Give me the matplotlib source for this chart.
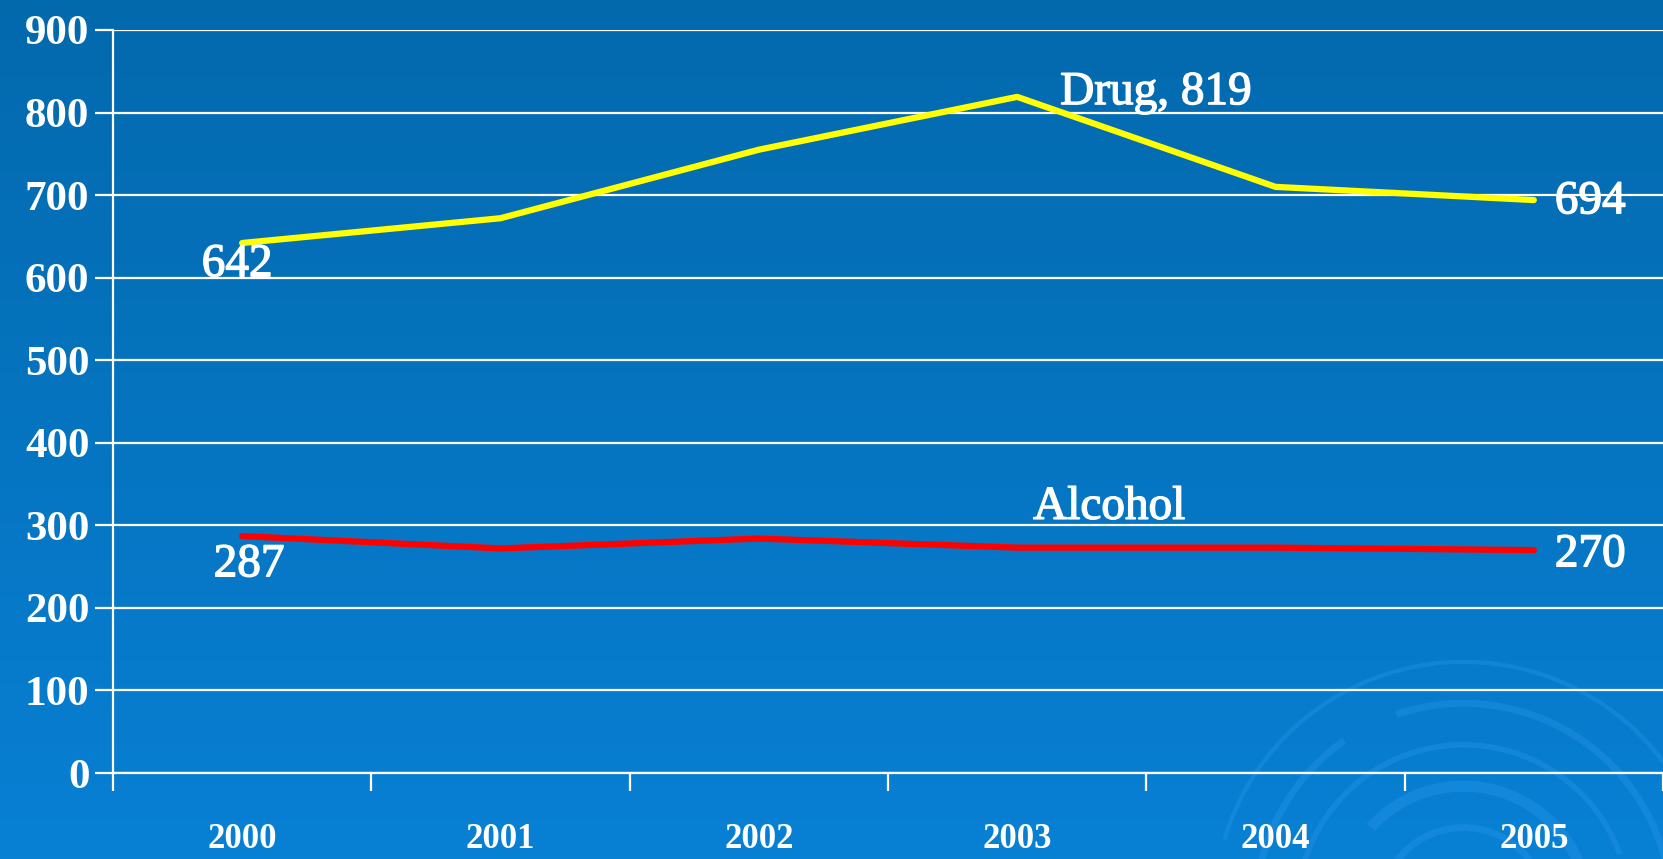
import numpy as np
import matplotlib.pyplot as plt
import matplotlib.patheffects as pe
from matplotlib.patches import Arc

years = ['2000', '2001', '2002', '2003', '2004', '2005']
drug = [642, 672, 755, 819, 710, 694]
alcohol = [287, 272, 284, 273, 273, 270]

plt.rcParams['font.family'] = ['Liberation Serif', 'DejaVu Serif']

fig = plt.figure(figsize=(16.63, 8.59), dpi=100)

# slide background: vertical blue gradient
bg = fig.add_axes([0, 0, 1, 1], zorder=-10)
grad = np.linspace(0, 1, 256).reshape(-1, 1)
top = np.array([3, 105, 173]) / 255
bottom = np.array([8, 128, 212]) / 255
img = top + (bottom - top) * grad[..., None]
bg.imshow(np.repeat(img, 2, axis=1), aspect='auto', extent=[0, 1, 0, 1], origin='upper')
# faint swirl in the lower right corner
for r, a1, a2, w in [(0.10, 20, 160, 5), (0.15, 15, 120, 8), (0.20, 35, 150, 4),
                     (0.25, 25, 100, 5), (0.25, 110, 165, 5), (0.30, 30, 150, 3)]:
    bg.add_patch(Arc((0.88, -0.06), r * 1.0, r * 1.93, theta1=a1, theta2=a2,
                     color='#2b98ea', lw=w, alpha=0.35))
bg.set_xlim(0, 1)
bg.set_ylim(0, 1)
bg.axis('off')

ax = fig.add_axes([113 / 1663, 86 / 859, 1 - 113 / 1663, 743 / 859])
ax.set_facecolor('none')
x = np.arange(len(years))

ax.plot(x, drug, color='#ffff00', lw=4.5, solid_capstyle='round', zorder=3)
ax.plot(x, alcohol, color='#ff0000', lw=4.5, solid_capstyle='round', zorder=3)

ax.set_ylim(0, 900)
ax.set_xlim(-0.5, -0.5 + 1550 / 260)
ax.set_yticks(range(0, 901, 100))
ax.yaxis.grid(True, color='white', lw=1.6)
ax.set_axisbelow(True)

for s in ['top', 'right']:
    ax.spines[s].set_visible(False)
for s in ['left', 'bottom']:
    ax.spines[s].set_color('white')
    ax.spines[s].set_linewidth(1.6)

ax.tick_params(axis='y', colors='white', length=13, width=1.6, labelsize=31, pad=4)
for lab in ax.get_yticklabels():
    lab.set_fontweight('bold')

# major x ticks sit between the years, labels go on minor ticks
ax.set_xticks(np.arange(-0.5, 5.6, 1.0))
ax.set_xticklabels([])
ax.tick_params(axis='x', which='major', colors='white', length=13, width=1.6, direction='out')
ax.set_xticks(x, minor=True)
ax.set_xticklabels(years, minor=True)
ax.tick_params(axis='x', which='minor', length=0, labelsize=25, labelcolor='white', pad=36)
for lab in ax.get_xticklabels(minor=True):
    lab.set_fontweight('bold')

thick = [pe.withStroke(linewidth=1.0, foreground='white')]
lab_kw = dict(textcoords='offset pixels', color='white', fontsize=34, va='center',
              path_effects=thick)
ax.annotate(str(drug[0]), (0, drug[0]), xytext=(-5, -22), ha='center', **lab_kw)
ax.annotate('Drug, %d' % drug[3], (3, drug[3]), xytext=(43, 4), ha='left', **lab_kw)
ax.annotate(str(drug[5]), (5, drug[5]), xytext=(21, -2), ha='left', **lab_kw)
ax.annotate('Alcohol', (3, alcohol[3]), xytext=(16, 40), ha='left', **lab_kw)
ax.annotate(str(alcohol[0]), (0, alcohol[0]), xytext=(7, -29), ha='center', **lab_kw)
ax.annotate(str(alcohol[5]), (5, alcohol[5]), xytext=(21, -5), ha='left', **lab_kw)

fig.savefig('out.png', dpi=100)
